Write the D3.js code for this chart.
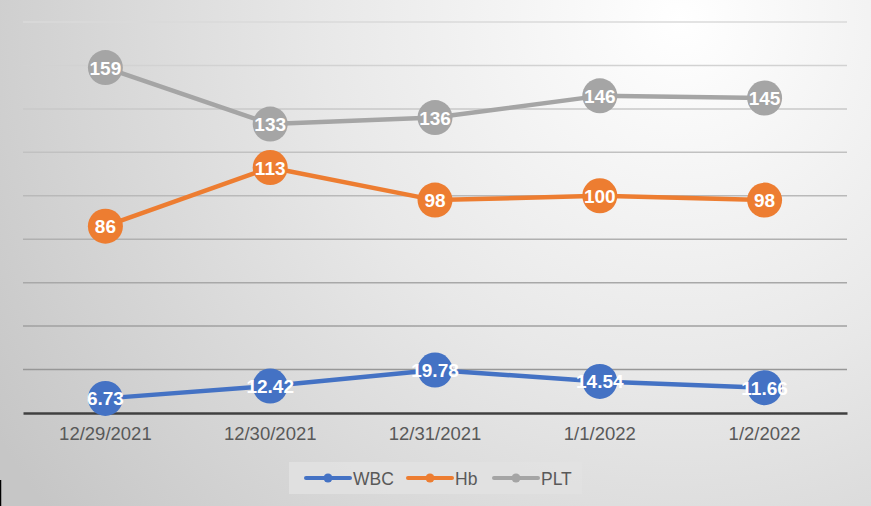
<!DOCTYPE html>
<html><head><meta charset="utf-8">
<script src="https://cdn.jsdelivr.net/npm/d3@7/dist/d3.min.js"></script>
<style>body{margin:0;overflow:hidden}svg{display:block}</style>
</head><body>
<script>
const categories = ["12/29/2021","12/30/2021","12/31/2021","1/1/2022","1/2/2022"];
const wbc = [6.73, 12.42, 19.78, 14.54, 11.66];
const hb = [86, 113, 98, 100, 98];
const plt = [159, 133, 136, 146, 145];
const seriesNames = ["WBC","Hb","PLT"];
const seriesColors = ["#4472c4","#ed7d31","#a5a5a5"];
const yTicks = [0,20,40,60,80,100,120,140,160,180];

const W = 871, H = 506;
const svg = d3.select("body").append("svg").attr("width", W).attr("height", H);
const defs = svg.append("defs");
const rg = defs.append("radialGradient").attr("id","bg")
  .attr("gradientUnits","userSpaceOnUse").attr("cx",680).attr("cy",20).attr("r",800);
rg.append("stop").attr("offset","0").attr("stop-color","#ffffff");
rg.append("stop").attr("offset","0.45").attr("stop-color","#e8e8e8");
rg.append("stop").attr("offset","1").attr("stop-color","#c6c6c6");
svg.append("rect").attr("width",W).attr("height",H).attr("fill","url(#bg)");
svg.append("line").attr("x1",0.5).attr("x2",0.5).attr("y1",480).attr("y2",506).attr("stroke","#000").attr("stroke-width",1.5);

const pLeft = 23, pRight = 847, pTop = 22, pBottom = 413;
const x = d3.scaleBand().domain(categories).range([pLeft,pRight]);
const y = d3.scaleLinear().domain([0,180]).range([pBottom,pTop]);
const gc = d3.scaleLinear().domain([180,0]).range(["#dadada","#8f8f8f"]);

svg.append("g").selectAll("line").data(yTicks.filter(d=>d>0)).join("line")
  .attr("x1",pLeft).attr("x2",pRight)
  .attr("y1",d=>y(d)).attr("y2",d=>y(d))
  .attr("stroke",d=>gc(d)).attr("stroke-width",1.5);

const xAxis = svg.append("g").attr("transform",`translate(0,${pBottom})`)
  .call(d3.axisBottom(x).tickSize(0).tickPadding(14));
xAxis.select(".domain").attr("stroke","#404040").attr("stroke-width",2.5);
xAxis.selectAll("text").attr("font-family","Liberation Sans, Arial, sans-serif")
  .attr("font-size",18.5).attr("fill","#595959");

const series = [wbc, hb, plt];
const cx = d => x(d) + x.bandwidth()/2;
const line = d3.line().x((d,i)=>cx(categories[i])).y(d=>y(d));

series.forEach((vals, si) => {
  const g = svg.append("g");
  g.append("path").datum(vals).attr("d", line).attr("fill","none")
    .attr("stroke", seriesColors[si]).attr("stroke-width",4.5).attr("stroke-linejoin","round");
  g.selectAll("circle").data(vals).join("circle")
    .attr("cx",(d,i)=>cx(categories[i])).attr("cy",d=>y(d)).attr("r",17.5)
    .attr("fill", seriesColors[si]);
  g.selectAll("text").data(vals).join("text")
    .attr("x",(d,i)=>cx(categories[i])).attr("y",d=>y(d)+7)
    .attr("text-anchor","middle").attr("font-family","Liberation Sans, Arial, sans-serif")
    .attr("font-weight","bold").attr("font-size",19).attr("fill","#fff")
    .text(d=>d);
});

// legend
const lg = svg.append("g");
lg.append("rect").attr("x",289).attr("y",462).attr("width",293).attr("height",32).attr("fill","#e2e2e2").attr("opacity",0.85);
const legX = [306, 408, 494];
seriesNames.forEach((n,i)=>{
  const lx = legX[i];
  lg.append("line").attr("x1",lx).attr("x2",lx+44).attr("y1",478).attr("y2",478)
    .attr("stroke",seriesColors[i]).attr("stroke-width",4).attr("stroke-linecap","round");
  lg.append("circle").attr("cx",lx+22).attr("cy",478).attr("r",4.5).attr("fill",seriesColors[i]);
  lg.append("text").attr("x",lx+47).attr("y",484.5).attr("font-family","Liberation Sans, Arial, sans-serif")
    .attr("font-size",17.5).attr("fill","#595959").text(n);
});
</script>
</body></html>
